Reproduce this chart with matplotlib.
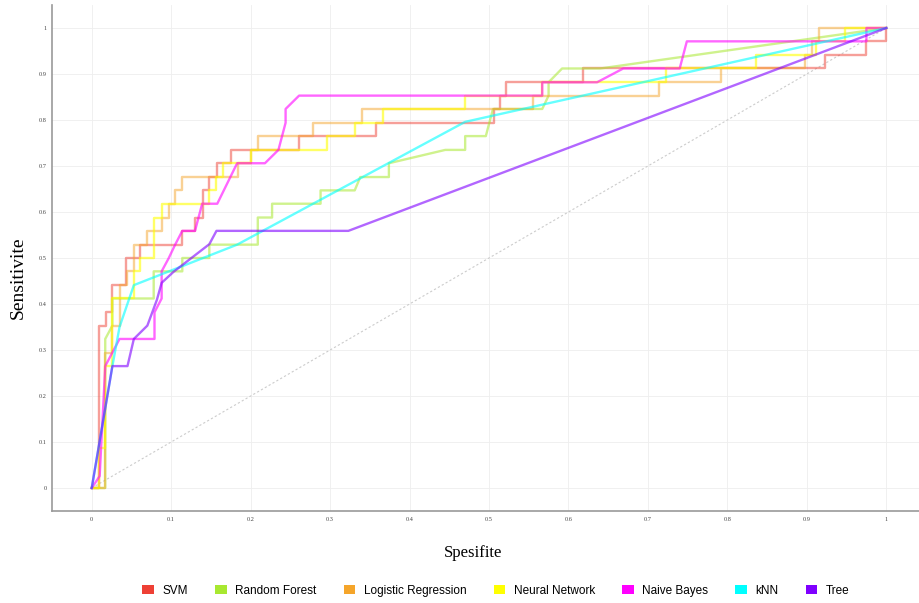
import matplotlib
matplotlib.use("Agg")
import matplotlib.pyplot as plt
from matplotlib.patches import Patch

# ----------------- Data -----------------
models = ["SVM", "Random Forest", "Logistic Regression", "Neural Network",
          "Naive Bayes", "kNN", "Tree"]
colors = ["#EE4035", "#A8E830", "#F5A52A", "#FFFF00", "#FF00FF", "#00FFFF", "#7F00FF"]
line_alpha = [0.5, 0.55, 0.5, 0.6, 0.6, 0.6, 0.6]

# staircase curves: x where the curve jumps, new sensitivity
svm_x = [0, 0.009, 0.018, 0.025, 0.043, 0.061, 0.114, 0.130, 0.140, 0.147, 0.158,
         0.175, 0.261, 0.358, 0.506, 0.514, 0.522, 0.618, 0.923, 0.975, 1.0]
svm_y = [0, 0.353, 0.382, 0.441, 0.5, 0.529, 0.559, 0.588, 0.647, 0.676, 0.706,
         0.735, 0.765, 0.794, 0.824, 0.853, 0.882, 0.912, 0.941, 0.971, 1.0]

lr_x = [0, 0.017, 0.026, 0.035, 0.044, 0.053, 0.070, 0.088, 0.097, 0.105, 0.114,
        0.184, 0.200, 0.209, 0.279, 0.340, 0.556, 0.714, 0.792, 0.898, 0.906, 0.915, 1.0]
lr_y = [0, 0.294, 0.353, 0.441, 0.471, 0.529, 0.559, 0.588, 0.618, 0.647, 0.676,
        0.706, 0.735, 0.765, 0.794, 0.824, 0.853, 0.882, 0.912, 0.941, 0.971, 1.0, 1.0]

nn_x = [0, 0.009, 0.017, 0.026, 0.053, 0.061, 0.079, 0.088, 0.148, 0.157, 0.165,
        0.200, 0.296, 0.331, 0.367, 0.470, 0.567, 0.723, 0.836, 0.912, 0.948, 1.0]
nn_y = [0, 0.088, 0.265, 0.412, 0.471, 0.5, 0.588, 0.618, 0.647, 0.676, 0.706,
        0.735, 0.765, 0.794, 0.824, 0.853, 0.882, 0.912, 0.941, 0.971, 1.0, 1.0]

# polyline curves (vertices)
rf_x = [0, 0.017, 0.017, 0.026, 0.026, 0.078, 0.078, 0.114, 0.114, 0.148, 0.148,
        0.209, 0.209, 0.227, 0.227, 0.288, 0.288, 0.331, 0.338, 0.374, 0.374, 0.445,
        0.470, 0.470, 0.496, 0.505, 0.567, 0.575, 0.575, 0.592, 0.640, 1.0]
rf_y = [0, 0, 0.324, 0.353, 0.412, 0.412, 0.471, 0.471, 0.5, 0.5, 0.529,
        0.529, 0.588, 0.588, 0.618, 0.618, 0.647, 0.647, 0.676, 0.676, 0.706, 0.735,
        0.735, 0.765, 0.765, 0.824, 0.824, 0.853, 0.882, 0.912, 0.912, 1.0]

nb_x = [0, 0.010, 0.017, 0.035, 0.079, 0.079, 0.088, 0.088, 0.097, 0.105, 0.114,
        0.130, 0.139, 0.158, 0.183, 0.218, 0.235, 0.244, 0.244, 0.261, 0.567, 0.567,
        0.636, 0.669, 0.740, 0.749, 0.975, 0.975, 1.0]
nb_y = [0, 0.026, 0.265, 0.324, 0.324, 0.382, 0.412, 0.471, 0.5, 0.529, 0.559,
        0.559, 0.618, 0.618, 0.706, 0.706, 0.735, 0.794, 0.824, 0.853, 0.853, 0.882,
        0.882, 0.912, 0.912, 0.971, 0.971, 1.0, 1.0]

knn_x = [0, 0.026, 0.035, 0.053, 0.183, 0.470, 1.0]
knn_y = [0, 0.265, 0.350, 0.441, 0.529, 0.796, 1.0]

tree_x = [0, 0.026, 0.045, 0.053, 0.070, 0.082, 0.088, 0.103, 0.148, 0.157, 0.323, 1.0]
tree_y = [0, 0.265, 0.265, 0.324, 0.353, 0.409, 0.446, 0.470, 0.530, 0.559, 0.559, 1.0]

ticks = [0, 0.1, 0.2, 0.3, 0.4, 0.5, 0.6, 0.7, 0.8, 0.9, 1]
tick_labels = ["0", "0.1", "0.2", "0.3", "0.4", "0.5", "0.6", "0.7", "0.8", "0.9", "1"]

# ----------------- Plot -----------------
fig = plt.figure(figsize=(9.2, 6.03), dpi=100)
ax = fig.add_axes([52 / 920, 92 / 603, 874 / 920, 506 / 603])

ax.plot([0, 1], [0, 1], color="#CCCCCC", lw=0.8, ls=(0, (2, 2)), zorder=1)

lw = 1.7
ax.step(svm_x, svm_y, where="post", color=colors[0], alpha=line_alpha[0], lw=lw, zorder=2)
ax.plot(rf_x, rf_y, color=colors[1], alpha=line_alpha[1], lw=lw, zorder=2)
ax.step(lr_x, lr_y, where="post", color=colors[2], alpha=line_alpha[2], lw=lw, zorder=2)
ax.step(nn_x, nn_y, where="post", color=colors[3], alpha=line_alpha[3], lw=lw, zorder=2)
ax.plot(nb_x, nb_y, color=colors[4], alpha=line_alpha[4], lw=lw, zorder=2)
ax.plot(knn_x, knn_y, color=colors[5], alpha=line_alpha[5], lw=lw, zorder=2)
ax.plot(tree_x, tree_y, color=colors[6], alpha=line_alpha[6], lw=lw, zorder=2)

ax.set_xlim(-0.05, 1.05)
ax.set_ylim(-0.05, 1.05)
ax.set_xticks(ticks)
ax.set_yticks(ticks)
ax.set_xticklabels(tick_labels, family="Liberation Serif", fontsize=4.5, color="#444444")
ax.set_yticklabels(tick_labels, family="Liberation Serif", fontsize=4.5, color="#444444")
ax.tick_params(length=0, pad=4)
ax.grid(True, color="#EEEEEE", lw=0.6)
ax.set_axisbelow(True)

for side in ["top", "right"]:
    ax.spines[side].set_visible(False)
for side in ["left", "bottom"]:
    ax.spines[side].set_color("#999999")
    ax.spines[side].set_linewidth(1.2)

fig.text(473 / 920, 1 - 553 / 603, "Spesifite", family="Liberation Serif",
         fontsize=12, ha="center", va="center")
fig.text(18 / 920, 1 - 278 / 603, "Sensitivite", family="Liberation Serif",
         fontsize=14, ha="center", va="center", rotation=90)

handles = [Patch(facecolor=c, edgecolor="none") for c in colors]
fig.legend(handles, models, loc="center", bbox_to_anchor=(0.539, 1 - 591 / 603),
           ncol=7, frameon=False, handlelength=1.0, handleheight=0.8,
           handletextpad=0.7, columnspacing=2.3,
           prop={"family": "Liberation Sans", "size": 8.5})

fig.savefig("out.png", dpi=100)
